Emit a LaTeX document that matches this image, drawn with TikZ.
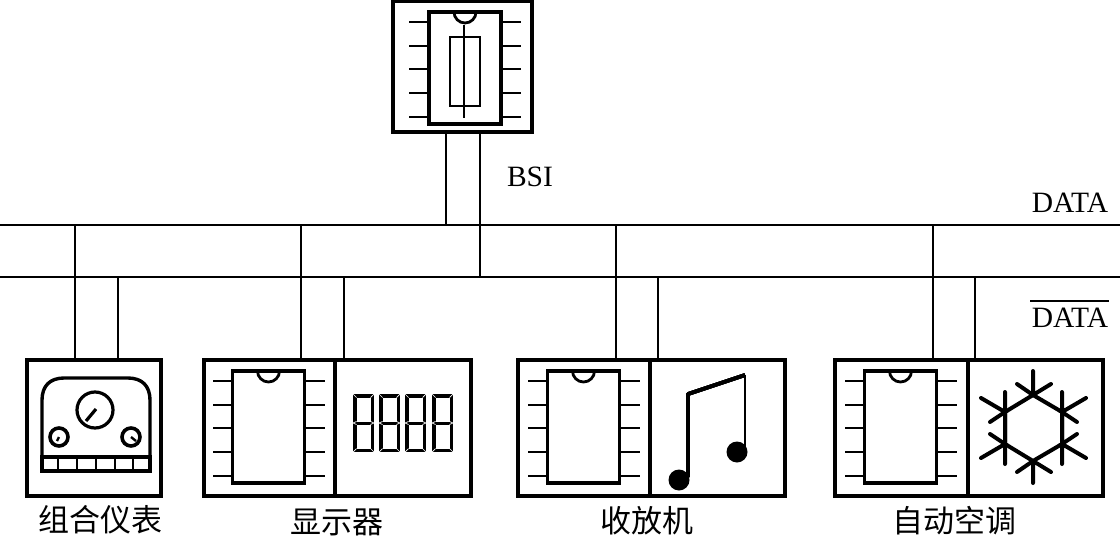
\documentclass[tikz,border=0pt]{standalone}
\usepackage{fontspec}
\setmainfont{Liberation Serif}
\newfontfamily\cjk{Noto Sans CJK SC}
\usepackage{tikz}
\usetikzlibrary{positioning}
\tikzset{
  unitbox/.style={draw,line width=3.2pt,inner sep=0pt,outer sep=0pt,minimum height=136pt},
  chipbox/.style={draw,line width=3.2pt,inner sep=0pt,outer sep=0pt,minimum width=72pt,minimum height=112pt},
  wire/.style={line width=1.5pt},
  pin/.style={line width=1.7pt},
  icon/.style={line width=3.4pt},
  cnlabel/.style={font=\cjk\fontsize{31}{31}\selectfont,inner sep=0pt},
  txt/.style={font=\fontsize{29.5}{29.5}\selectfont,inner sep=0pt},
}
% chip with pins and notch
\newcommand{\icchip}[2]{
  \node[chipbox] (#1) at (#2) {};
  \draw[line width=2.8pt] ([xshift=-11pt]#1.north) arc[start angle=180,end angle=360,radius=11pt];
  \foreach \dy in {-46,-22,1,25,49} {
    \draw[pin] ([yshift=-\dy pt]#1.west) -- ++(-20,0);
    \draw[pin] ([yshift=-\dy pt]#1.east) -- ++(20,0);
  }
}
% one seven segment digit
\newcommand{\segdigit}[1]{
  \begin{scope}[shift={(#1,394)}]
    \fill (0,0) rectangle (21,58);
    \fill[white] (3.5,3.5) rectangle (17.5,27.5);
    \fill[white] (3.5,30.5) rectangle (17.5,54.5);
    \draw[white,line width=.7pt] (0,0) -- (3.5,3.5) (21,0) -- (17.5,3.5) (0,58) -- (3.5,54.5) (21,58) -- (17.5,54.5)
      (0,29) -- (3.5,27.5) (0,29) -- (3.5,30.5) (21,29) -- (17.5,27.5) (21,29) -- (17.5,30.5);
  \end{scope}
}
\begin{document}
\begin{tikzpicture}[x=1pt,y=-1pt]
\useasboundingbox (0,0) rectangle (1120,538);
% fuse box on top
\node[unitbox,minimum width=139pt,minimum height=131pt] (bsi) at (462.5,66.5) {};
\icchip{bsichip}{465,68}
\node[draw,line width=1.5pt,minimum width=30pt,minimum height=69pt,inner sep=0pt] (fuse) at (465,71.5) {};
\coordinate (fusetop) at (464,25);
\coordinate (fusebot) at (464,118);
\draw[line width=1.7pt] (fusetop) -- (fusebot);
% bus
\coordinate (dataL) at (0,225);
\coordinate (dataR) at (1120,225);
\coordinate (ndataL) at (0,277);
\coordinate (ndataR) at (1120,277);
\draw[wire] (dataL) -- (dataR);
\draw[wire] (ndataL) -- (ndataR);
\draw[wire] (bsi.south -| 446,0) -- (446,225);
\draw[wire] (bsi.south -| 480,0) -- (480,277);
% lower units
\node[unitbox,minimum width=134pt] (meter) at (94,428) {};
\node[unitbox,minimum width=131pt] (disp) at (269.5,428) {};
\node[unitbox,minimum width=136pt,right=0pt of disp] (digits) {};
\node[unitbox,minimum width=132pt] (radio) at (584,428) {};
\node[unitbox,minimum width=135pt,right=0pt of radio] (note) {};
\node[unitbox,minimum width=133pt] (ac) at (901.5,428) {};
\node[unitbox,minimum width=135pt,right=0pt of ac] (snow) {};
\icchip{dispchip}{268.5,427}
\icchip{radiochip}{583.5,427}
\icchip{acchip}{900.5,427}
% drops from the bus
\foreach \xa/\xb/\unit in {75/118/meter,301/344/disp,616/658/radio,933/975/ac} {
  \draw[wire] (\xa,225) -- (\xa,360);
  \draw[wire] (\xb,277) -- (\xb,360);
}
% meter panel
\draw[icon] (42,457) -- (42,400) .. controls (42,386) and (50,378) .. (64,378) -- (128,378) .. controls (142,378) and (150,386) .. (150,400) -- (150,457);
\draw[icon] (42,457) rectangle (150,471);
\foreach \x in {58,77,96,115,133} \draw[pin] (\x,457) -- (\x,471);
\draw[line width=3.2pt] (95,410) circle[radius=18];
\draw[line width=3.6pt] (59,437) circle[radius=9];
\draw[line width=3.6pt] (131,437) circle[radius=9];
\draw[line width=3.2pt] (86,421) -- (96,409);
\draw[line width=2.4pt] (59,437) -- (57,441);
\draw[line width=2.4pt] (131,437) -- (136,441);
% digits
\foreach \x in {353,379,405,432} \segdigit{\x}
% music note
\draw[line width=3.8pt,line join=round] (688,477) -- (688,394) -- (745,375);
\draw[line width=2.6pt] (745,375) -- (745,452);
\fill (679,480) circle[radius=10.5];
\fill (737,452) circle[radius=10.5];
% snow flake
\begin{scope}[line width=4pt,line cap=round]
  \draw (1033,395) -- (1062,412) -- (1062,444) -- (1033,461) -- (1005,444) -- (1005,412) -- cycle;
  \draw (1033,371) -- (1033,395) (1017,384) -- (1033,395) -- (1051,384);
  \draw (1033,483) -- (1033,461) (1017,472) -- (1033,461) -- (1051,472);
  \draw (1062,392) -- (1062,464) (1086,398) -- (1062,412) -- (1077,422) (1077,434) -- (1062,444) -- (1086,458);
  \draw (1005,392) -- (1005,464) (981,398) -- (1005,412) -- (990,422) (990,434) -- (1005,444) -- (981,458);
\end{scope}
% labels
\node[txt] (bsilab) at (530,177) {BSI};
\node[txt] (datalab) at (1070,203) {DATA};
\node[txt] (ndatalab) at (1070,318) {DATA};
\coordinate (barL) at (1030,301);
\coordinate (barR) at (1109,301);
\draw[wire] (barL) -- (barR);
\node[cnlabel] (meterlab) at (100,520) {组合仪表};
\node[cnlabel] (displab) at (337,522) {显示器};
\node[cnlabel] (radiolab) at (647,521) {收放机};
\node[cnlabel] (aclab) at (954,521) {自动空调};
\end{tikzpicture}
\end{document}
